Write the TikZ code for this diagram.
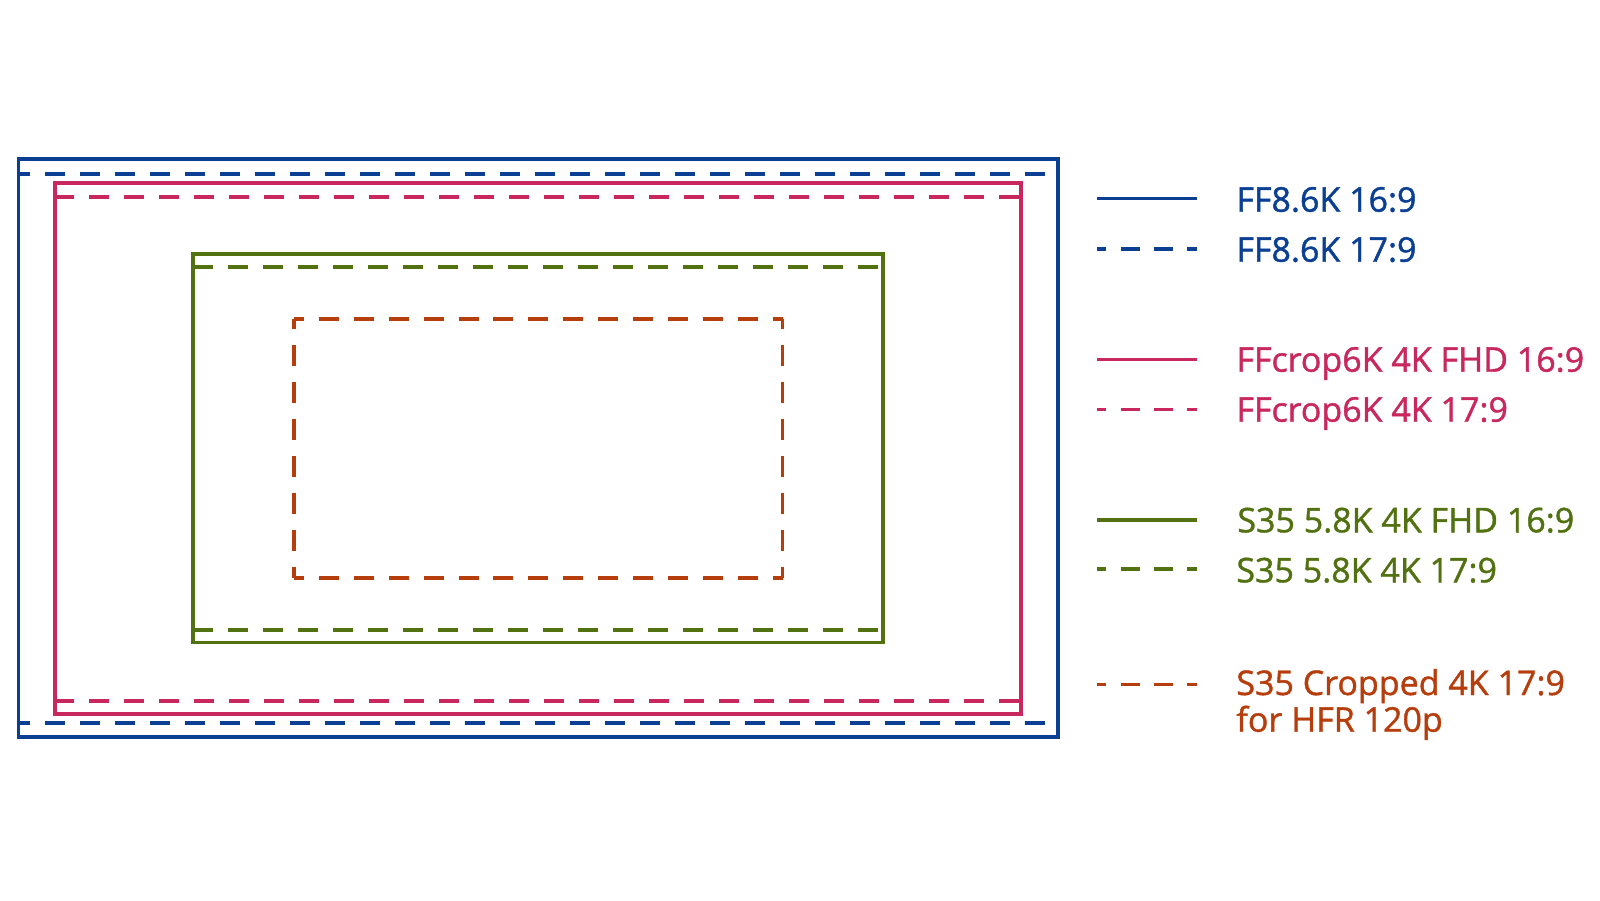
\documentclass[tikz,border=0pt]{standalone}
\usepackage{fontspec}
\setmainfont{Open Sans}[FakeBold=1.2]
\definecolor{ffblue}{HTML}{0A3F94}
\definecolor{ffpink}{HTML}{C8285E}
\definecolor{s35green}{HTML}{527212}
\definecolor{s35orange}{HTML}{B63D0C}

\begin{document}
\begin{tikzpicture}[x=0.5pt,y=-0.5pt,
  frame/.style={line width=1.9pt},
  wide/.style={line width=1.9pt, dash pattern=on 10pt off 7.5pt},
  cropH/.style={line width=1.9pt, dash pattern=on 10pt off 7.45pt, dash phase=5pt},
  cropV/.style={line width=1.9pt, dash pattern=on 10.5pt off 8pt, dash phase=5.25pt},
  keyline/.style={line width=1.8pt},
  keydash/.style={line width=1.8pt, dash pattern=on 9.25pt off 7.35pt, dash phase=4.6pt},
  key/.style={anchor=base west, inner sep=0pt, align=left,
    font=\fontsize{17}{18.35}\selectfont}]
\useasboundingbox (0,0) rectangle (1600,900);
% FF8.6K
\draw[ffblue, frame] (18.5,158.8) rectangle (1057.7,736.8);
\draw[ffblue, wide, dash phase=4.25pt] (18.5,174.3) -- (1057.7,174.3);
\draw[ffblue, wide, dash phase=4.25pt] (18.5,723) -- (1057.7,723);
% FFcrop6K
\draw[ffpink, frame] (55,182.8) rectangle (1021.3,713.7);
\draw[ffpink, wide, dash phase=0.5pt] (55,196.7) -- (1021.3,196.7);
\draw[ffpink, wide, dash phase=0.5pt] (55,700.7) -- (1021.3,700.7);
% S35 5.8K
\draw[s35green, frame] (193,254) rectangle (883.3,642.5);
\draw[s35green, wide] (193,266.7) -- (883.3,266.7);
\draw[s35green, wide] (193,630) -- (883.3,630);
% S35 cropped
\draw[s35orange, cropH] (294,318.7) -- (782.5,318.7);
\draw[s35orange, cropH] (294,577.7) -- (782.5,577.7);
\draw[s35orange, cropV] (294,318.7) -- (294,577.7);
\draw[s35orange, cropV] (782.5,318.7) -- (782.5,577.7);

% legend
\draw[ffblue, keyline] (1097,198.3) -- (1197,198.3);
\node[key, text=ffblue] (ff169) at (1236,211.7) {FF8.6K 16:9};
\draw[ffblue, keydash] (1097,249) -- (1197,249);
\node[key, text=ffblue] (ff179) at (1236,261.7) {FF8.6K 17:9};

\draw[ffpink, keyline] (1097,359.3) -- (1197,359.3);
\node[key, text=ffpink] (crop169) at (1236,371.7) {FFcrop6K 4K FHD 16:9};
\draw[ffpink, keydash] (1097,409.3) -- (1197,409.3);
\node[key, text=ffpink] (crop179) at (1236,421.7) {FFcrop6K 4K 17:9};

\draw[s35green, keyline] (1097,520) -- (1197,520);
\node[key, text=s35green] (s169) at (1237,532.3) {S35 5.8K 4K FHD 16:9};
\draw[s35green, keydash] (1097,569) -- (1197,569);
\node[key, text=s35green] (s179) at (1236,582.3) {S35 5.8K 4K 17:9};

\draw[s35orange, keydash] (1097,684.3) -- (1197,684.3);
% base of a two-line node is the last line
\node[key, text=s35orange] (hfr) at (1236,731.7) {S35 Cropped 4K 17:9\\for HFR 120p};
\end{tikzpicture}
\end{document}
